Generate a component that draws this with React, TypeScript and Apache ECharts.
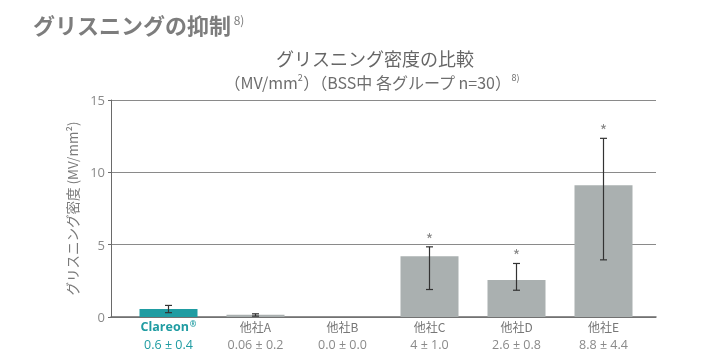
import React, { useEffect, useRef } from "react";
import * as echarts from "echarts";

const categories = ["Clareon", "他社A", "他社B", "他社C", "他社D", "他社E"];
const statLabels = ["0.6 ± 0.4", "0.06 ± 0.2", "0.0 ± 0.0", "4 ± 1.0", "2.6 ± 0.8", "8.8 ± 4.4"];
const means = [0.55, 0.15, 0, 4.2, 2.55, 9.1];
const errLow: (number | null)[] = [0.3, 0.06, null, 1.9, 1.85, 3.95];
const errHigh: (number | null)[] = [0.8, 0.22, null, 4.85, 3.7, 12.35];
const significant = [false, false, false, true, true, true];
const yTicks = { min: 0, max: 15, interval: 5 };

const TEAL = "#1f9ca2";
const GRAY_BAR = "#aab0b0";
const TEXT_GRAY = "#7a7a7a";
const FONT = "'Noto Sans CJK JP', 'Noto Sans', sans-serif";
const LATIN = "'Open Sans', 'Noto Sans CJK JP', sans-serif";

export default function App() {
  const ref = useRef<HTMLDivElement>(null);
  useEffect(() => {
    if (!ref.current) return;
    const chart = echarts.init(ref.current, null, { renderer: "svg" });
    const errData = categories.map((_, i) => [i, errLow[i], errHigh[i], significant[i] ? 1 : 0]);
    chart.setOption({
      animation: false,
      textStyle: { fontFamily: FONT },
      title: [
        {
          text: "{t|グリスニングの抑制}{s| 8)}",
          left: 28,
          top: 8,
          textStyle: {
            rich: {
              t: { fontSize: 22, fontWeight: "bold", color: "#7d7d7d", fontFamily: FONT },
              s: { fontSize: 12, fontWeight: "normal", color: "#7d7d7d", fontFamily: FONT, padding: [0, 0, 10, 0] },
            },
          },
        },
        {
          text: "グリスニング密度の比較",
          left: 370,
          textAlign: "center",
          top: 44,
          textStyle: { fontSize: 18, fontWeight: "normal", color: "#666", fontFamily: FONT },
        },
        {
          text: "{a|（MV/mm}{s|2}{a|）（BSS中 各グループ n=30）}{s|8)}",
          left: 367,
          textAlign: "center",
          top: 68,
          textStyle: {
            fontWeight: "normal",
            rich: {
              a: { fontSize: 16, fontWeight: "normal", color: "#6e6e6e", fontFamily: FONT },
              s: { fontSize: 9, fontWeight: "normal", color: "#6e6e6e", fontFamily: FONT, padding: [0, 0, 8, 0] },
            },
          },
        },
      ],
      grid: [
        { left: 111, right: 47, top: 100, bottom: 38 },
        { left: 125, right: 56, top: 100, bottom: 38 },
      ],
      xAxis: [
        {
          gridIndex: 0,
          type: "category",
          data: categories,
          axisLine: { show: true, lineStyle: { color: "#6a6a6a", width: 1.5 } },
          axisTick: { show: false },
          axisLabel: { show: false },
        },
        {
          gridIndex: 1,
          type: "category",
          data: categories,
          axisLine: { show: false },
          axisTick: { show: false },
          axisLabel: {
            margin: 2,
            interval: 0,
            lineHeight: 14,
            formatter: (v: string, i: number) =>
              i === 0 ? `{cn|${v}}{cs|®}` : `{gn|${v}}`,
            rich: {
              cn: { fontSize: 12.5, fontWeight: "bold", color: TEAL, fontFamily: LATIN, lineHeight: 14 },
              cs: { fontSize: 8, fontWeight: "bold", color: TEAL, fontFamily: LATIN, padding: [0, 0, 5, 1] },
              gn: { fontSize: 12, color: "#777", fontFamily: FONT, lineHeight: 14 },
            },
          },
        },
        {
          gridIndex: 1,
          type: "category",
          position: "bottom",
          offset: 18,
          data: statLabels,
          axisLine: { show: false },
          axisTick: { show: false },
          axisLabel: {
            margin: 2,
            interval: 0,
            fontSize: 12.5,
            lineHeight: 14,
            fontFamily: LATIN,
            color: (_v: any, i: number) => (i === 0 ? TEAL : "#8a8a8a"),
          },
        },
      ],
      yAxis: [
        {
          gridIndex: 0,
          type: "value",
          ...yTicks,
          name: "グリスニング密度 (MV/mm²)",
          nameLocation: "middle",
          nameGap: 31,
          nameTextStyle: { fontSize: 13.5, color: TEXT_GRAY, fontFamily: FONT },
          axisLine: { show: true, lineStyle: { color: "#6a6a6a", width: 1 } },
          axisTick: { show: true, length: 3, lineStyle: { color: "#6a6a6a" } },
          axisLabel: { fontSize: 13, color: "#8a8a8a", margin: 6, fontFamily: LATIN },
          splitLine: { show: true, lineStyle: { color: "#8a8a8a", width: 1 } },
        },
        {
          gridIndex: 1,
          type: "value",
          ...yTicks,
          show: false,
          splitLine: { show: false },
        },
      ],
      series: [
        {
          type: "bar",
          xAxisIndex: 1,
          yAxisIndex: 1,
          barWidth: 58,
          data: means.map((v, i) => ({ value: v, itemStyle: { color: i === 0 ? TEAL : GRAY_BAR } })),
          z: 2,
        },
        {
          type: "custom",
          xAxisIndex: 1,
          yAxisIndex: 1,
          z: 5,
          data: errData,
          renderItem: (params: any, api: any) => {
            const lo = api.value(1);
            const hi = api.value(2);
            if (lo == null || hi == null || isNaN(lo) || isNaN(hi)) return null;
            const x = api.coord([api.value(0), 0])[0];
            const yl = api.coord([api.value(0), lo])[1];
            const yh = api.coord([api.value(0), hi])[1];
            const style = { stroke: "#333", lineWidth: 1.2 };
            const children: any[] = [
              { type: "line", shape: { x1: x, y1: yl, x2: x, y2: yh }, style },
              { type: "line", shape: { x1: x - 3.5, y1: yl, x2: x + 3.5, y2: yl }, style },
              { type: "line", shape: { x1: x - 3.5, y1: yh, x2: x + 3.5, y2: yh }, style },
            ];
            if (api.value(3) === 1) {
              children.push({
                type: "text",
                style: {
                  text: "*",
                  x,
                  y: yh - 8,
                  align: "center",
                  verticalAlign: "middle",
                  fontSize: 16,
                  fill: "#8a8a8a",
                  fontFamily: FONT,
                },
              });
            }
            return { type: "group", children };
          },
        },
      ],
    });
    return () => chart.dispose();
  }, []);
  return (
    <div
      ref={ref}
      style={{ position: "fixed", left: 0, top: 0, width: 703, height: 355 }}
    />
  );
}
